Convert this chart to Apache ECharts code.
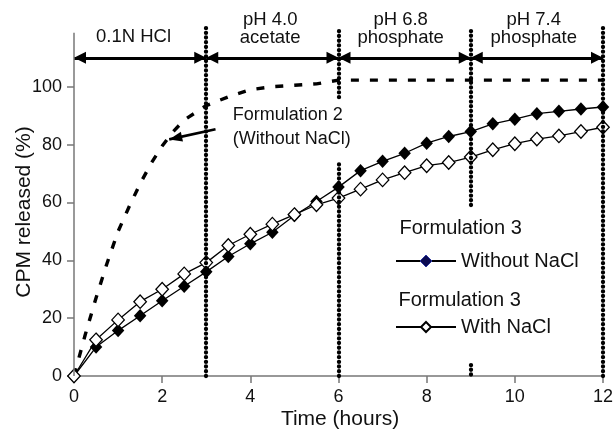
<!DOCTYPE html>
<html>
<head>
<meta charset="utf-8">
<script src="https://cdn.jsdelivr.net/npm/echarts@6/dist/echarts.min.js"></script>
<style>html,body{margin:0;padding:0;background:#fff}#c{width:616px;height:435px}</style>
</head>
<body>
<div id="c"></div>
<script>
// ---- data ----
const timeHours = [0,0.5,1,1.5,2,2.5,3,3.5,4,4.5,5,5.5,6,6.5,7,7.5,8,8.5,9,9.5,10,10.5,11,11.5,12];
const f3WithoutNaCl = [0,10,15.7,20.8,26,31,36,41.3,45.7,49.7,55.5,60.3,65.3,71,74.2,77,80.5,82.8,84.5,87.2,88.8,90.7,91.5,92.3,93];
const f3WithNaCl = [0,12.5,19.4,25.7,30,35.3,39.2,45.1,49,52.5,55.8,59.2,61.5,64.6,67.8,70.3,72.7,73.8,75.7,78.2,80.3,81.9,83,84.5,86];
const f2Time = [0,0.25,0.5,0.75,1,1.25,1.5,1.75,2,2.25,2.5,2.75,3,3.5,4,4.5,5,5.5,6,12];
const f2Values = [0,14,27,39,50,58.5,66.5,73.5,79.5,84.5,88.5,91,93.5,96.5,99,100,100.5,101,102.3,102.3];
const xTicks = [0,2,4,6,8,10,12];
const yTicks = [0,20,40,60,80,100];
const phaseBounds = [0,3,6,9,12];
const phaseNames = [['0.1N HCl'],['pH 4.0','acetate'],['pH 6.8','phosphate'],['pH 7.4','phosphate']];

const FONT = "'Liberation Sans', Arial, Helvetica, sans-serif";
const pairs = (xs, ys) => xs.map((x, i) => [x, ys[i]]);

const chart = echarts.init(document.getElementById('c'), null, {renderer: 'canvas'});

// phase divider segments (dotted), broken where the original figure breaks them
const dotted = {type: [0.1, 4.6], cap: 'round', width: 4.3, color: '#000'};
const dividerSegs = [
  [[3, 0], [3, 120.6]],
  [[6, 0], [6, 74]], [[6, 96.4], [6, 120.6]],
  [[9, 0.5], [9, 3.8]], [[9, 59.1], [9, 120.6]],
  [[12, 0], [12, 120.6]]
];
const arrowY = 110;
const arrowSegs = [];
for (let i = 0; i < phaseBounds.length - 1; i++) {
  arrowSegs.push([{coord: [phaseBounds[i], arrowY]}, {coord: [phaseBounds[i + 1], arrowY]}]);
}

chart.setOption({
  animation: false,
  backgroundColor: '#fff',
  grid: {left: 74, right: 8.5, top: 26, bottom: 59, containLabel: false},
  xAxis: {
    type: 'value', min: 0, max: 12, interval: 2,
    axisLine: {lineStyle: {color: '#777', width: 1.5}},
    axisTick: {length: 7, lineStyle: {color: '#777', width: 1.5}},
    axisLabel: {fontSize: 18, fontFamily: FONT, color: '#111', margin: 12},
    splitLine: {show: false}
  },
  yAxis: {
    type: 'value', min: 0, max: 121, interval: 20,
    axisLine: {show: false},
    axisTick: {show: true, length: 7, customValues: yTicks, lineStyle: {color: '#777', width: 1.5}},
    axisLabel: {fontSize: 18, fontFamily: FONT, color: '#111', margin: 12, customValues: yTicks},
    splitLine: {show: false}
  },
  legend: [
    {
      data: [{name: 'Without NaCl', itemStyle: {color: '#0b0b52', borderColor: '#2a35a0', borderWidth: 1}}],
      left: 395, top: 251, padding: 0, itemWidth: 60, itemHeight: 15,
      textStyle: {fontSize: 20, fontFamily: FONT, color: '#111'}
    },
    {
      data: ['With NaCl'],
      left: 395, top: 317, padding: 0, itemWidth: 60, itemHeight: 12.5,
      textStyle: {fontSize: 20, fontFamily: FONT, color: '#111'}
    }
  ],
  series: [
    {
      name: 'Formulation 2', type: 'line', data: pairs(f2Time, f2Values),
      symbol: 'none', z: 2,
      lineStyle: {color: '#000', width: 3.4, type: [8, 11]}
    },
    {
      name: 'Without NaCl', type: 'line', data: pairs(timeHours, f3WithoutNaCl),
      symbol: 'diamond', symbolSize: [12.5, 13.5], z: 3,
      itemStyle: {color: '#000'},
      lineStyle: {color: '#000', width: 1.3}
    },
    {
      name: 'With NaCl', type: 'line', data: pairs(timeHours, f3WithNaCl),
      symbol: 'diamond', symbolSize: [12.5, 13.5], z: 4,
      itemStyle: {color: '#fff', borderColor: '#000', borderWidth: 1.3},
      lineStyle: {color: '#000', width: 1.3}
    },
    {
      name: 'guides', type: 'line', data: [], clip: false, z: 6,
      markLine: {
        silent: true, animation: false, symbol: ['none', 'none'],
        label: {show: false},
        lineStyle: dotted,
        data: dividerSegs.map(s => [{coord: s[0], lineStyle: dotted}, {coord: s[1]}])
      }
    },
    {
      name: 'phaseArrows', type: 'line', data: [], clip: false, z: 5,
      markLine: {
        silent: true, animation: false,
        symbol: ['triangle', 'triangle'], symbolSize: [12, 12],
        symbolOffset: [[0, 6], [0, 6]],
        label: {show: false},
        lineStyle: {color: '#000', width: 3, type: 'solid'},
        data: arrowSegs
      }
    },
    {
      name: 'yAxisLine', type: 'line', data: [], clip: false, z: 1,
      markLine: {
        silent: true, animation: false, symbol: ['none', 'none'],
        label: {show: false},
        lineStyle: {color: '#777', width: 1.5, type: 'solid'},
        data: [[{coord: [0, 0]}, {coord: [0, 118.7]}]]
      }
    },
    {
      name: 'noteArrow', type: 'line', data: [], clip: false, z: 5,
      markLine: {
        silent: true, animation: false,
        symbol: ['none', 'triangle'], symbolSize: [10, 13],
        symbolOffset: [[0, 0], [0, 6.5]],
        label: {show: false},
        lineStyle: {color: '#000', width: 2.6, type: 'solid'},
        data: [[{coord: [3.21, 85.3]}, {coord: [2.16, 81.8]}]]
      }
    }
  ]
});

// ---- text annotations ----
function txt(text, x, y, size, align, rot) {
  return {
    type: 'text', x: x, y: y, rotation: rot || 0, silent: true, z: 10,
    style: {
      text: text, fill: '#111', fontSize: size, fontFamily: FONT,
      align: align || 'center', verticalAlign: 'middle',
      textAlign: align || 'center', textVerticalAlign: 'middle'
    }
  };
}
const labelX = [1.35, 4.45, 7.41, 10.43];
const g = [];
phaseNames.forEach((lines, i) => {
  const px = chart.convertToPixel({gridIndex: 0}, [labelX[i], 0])[0];
  if (lines.length === 1) {
    g.push(txt(lines[0], px, 36.7, 18.5));
  } else {
    g.push(txt(lines[0], px, 20, 18.5));
    g.push(txt(lines[1], px, 38.4, 18.5));
  }
});
g.push(txt('Formulation 2', 232.7, 115.5, 18, 'left'));
g.push(txt('(Without NaCl)', 232.7, 139.5, 18, 'left'));
g.push(txt('Formulation 3', 399.5, 228.5, 20, 'left'));
g.push(txt('Formulation 3', 398.5, 300, 20, 'left'));
g.push(txt('Time (hours)', 340, 419, 21));
g.push(txt('CPM released (%)', 24, 212, 21, 'center', Math.PI / 2));
chart.setOption({graphic: g});
</script>
</body>
</html>
